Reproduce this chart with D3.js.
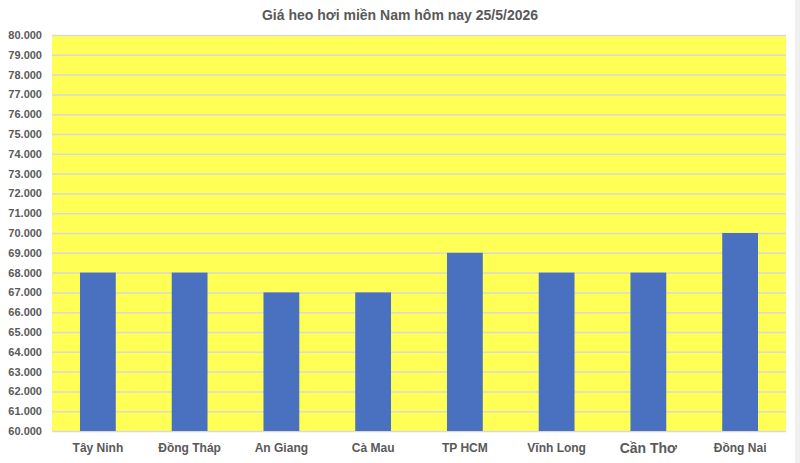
<!DOCTYPE html>
<html>
<head>
<meta charset="utf-8">
<script src="https://cdn.jsdelivr.net/npm/d3@7"></script>
<style>
body { margin: 0; background: #fff; }
svg text { font-family: "Liberation Sans", Arial, sans-serif; fill: #595959; }
</style>
</head>
<body>
<script>
var title = "Giá heo hơi miền Nam hôm nay 25/5/2026";
var provinces = ["Tây Ninh", "Đồng Tháp", "An Giang", "Cà Mau", "TP HCM", "Vĩnh Long", "Cần Thơ", "Đồng Nai"];
var prices = [68000, 68000, 67000, 67000, 69000, 68000, 68000, 70000];
var yTicks = d3.range(60000, 80001, 1000);

var width = 800, height = 463;
var margin = {top: 35, right: 14, bottom: 32, left: 52};

var svg = d3.select("body").append("svg")
	.attr("width", width)
	.attr("height", height);

// faint sheet border on the right
svg.append("rect")
	.attr("x", 795).attr("y", 0)
	.attr("width", 5).attr("height", height)
	.attr("fill", "#f0f0f0");

var x = d3.scaleBand()
	.domain(provinces)
	.range([margin.left, width - margin.right])
	.paddingInner(0.61)
	.paddingOuter(0.305);

var y = d3.scaleLinear()
	.domain([60000, 80000])
	.range([height - margin.bottom, margin.top]);

svg.append("rect")
	.attr("x", margin.left)
	.attr("y", margin.top)
	.attr("width", width - margin.left - margin.right)
	.attr("height", height - margin.top - margin.bottom)
	.attr("fill", "#ffff55");

var fmt = function(d) { return d3.format(",.3f")(d / 1000).replace(",", ""); };

var yAxis = svg.append("g")
	.attr("transform", "translate(" + margin.left + ",0)")
	.call(d3.axisLeft(y).tickValues(yTicks)
		.tickSize(-(width - margin.left - margin.right))
		.tickPadding(10)
		.tickFormat(fmt));
yAxis.select(".domain").remove();
yAxis.selectAll(".tick line").attr("stroke", "#d9d9d9").attr("stroke-width", 1.5);
yAxis.selectAll(".tick text")
	.attr("font-size", 11)
	.attr("font-weight", "bold")
	.attr("fill", "#595959")
	.style("font-family", "'Liberation Sans', Arial, sans-serif");

svg.selectAll(".bar")
	.data(prices)
	.enter().append("rect")
	.attr("class", "bar")
	.attr("x", function(d, i) { return x(provinces[i]); })
	.attr("y", function(d) { return y(d); })
	.attr("width", x.bandwidth())
	.attr("height", function(d) { return y(60000) - y(d); })
	.attr("fill", "#4a70c0");

var xAxis = svg.append("g")
	.attr("transform", "translate(0," + (height - margin.bottom) + ")")
	.call(d3.axisBottom(x).tickSize(0).tickPadding(12));
xAxis.select(".domain").remove();
xAxis.selectAll(".tick text")
	.attr("dy", "0.71em")
	.attr("font-size", function(d) { return d === "Cần Thơ" ? 14 : 12; })
	.attr("font-weight", function(d) { return d === "Cần Thơ" ? 600 : "bold"; })
	.attr("fill", "#595959")
	.style("font-family", "'Liberation Sans', Arial, sans-serif");

svg.append("text")
	.attr("x", 400)
	.attr("y", 20)
	.attr("text-anchor", "middle")
	.attr("font-size", 14)
	.attr("font-weight", "bold")
	.text(title);
</script>
</body>
</html>
